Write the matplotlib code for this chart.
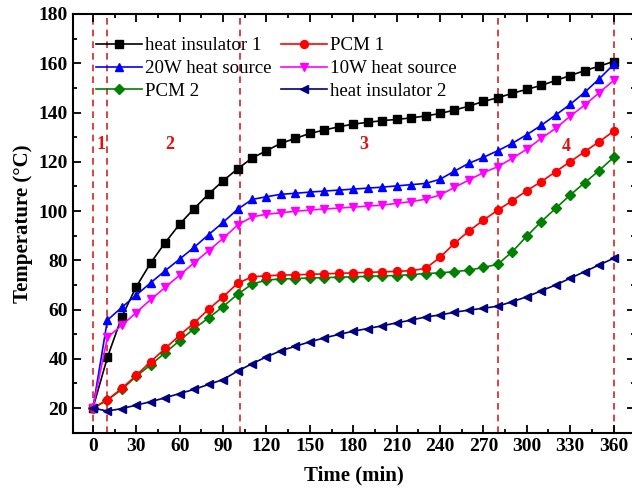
import numpy as np
import matplotlib
matplotlib.use("Agg")
import matplotlib.pyplot as plt
from matplotlib.ticker import MultipleLocator

# time axis, one reading every 10 min
time = np.arange(0, 361, 10)

heat_insulator_1 = [20, 40.6, 57.1, 69.3, 79, 87.2, 94.7, 101, 106.9, 112.3, 117.1,
                    121.5, 124.5, 127.5, 129.5, 131.5, 132.9, 134.2, 135.3, 136, 136.7,
                    137.2, 137.8, 138.6, 139.6, 141, 142.6, 144.5, 146, 147.8, 149.4,
                    151, 153, 155, 157, 158.8, 160.7]
pcm_1 = [20, 23.3, 28, 33.3, 38.9, 44.2, 49.6, 54.6, 60.1, 65.2, 70.6,
         73.3, 73.7, 74, 74.1, 74.3, 74.5, 74.7, 74.9, 75.1, 75.3,
         75.5, 75.8, 76.7, 81.2, 86.9, 91.9, 96.3, 100.4, 104.2, 108.3,
         111.9, 116, 120, 124.1, 128.1, 132.4]
w20_source = [20, 55.7, 60.9, 65.9, 70.9, 75.8, 80.5, 85.3, 90.4, 95.4, 100.7,
              104.7, 105.8, 106.8, 107.2, 107.7, 108.1, 108.5, 108.9, 109.3, 109.7,
              110.2, 110.7, 111.2, 112.9, 116.2, 119.4, 121.8, 124.5, 127.5, 131,
              134.8, 139, 143.3, 148.2, 153.6, 159.5]
w10_source = [20, 48.7, 53.6, 58.8, 64.1, 69, 74, 79, 83.9, 88.9, 94.3,
              97.6, 98.7, 99.3, 99.9, 100.4, 100.8, 101.2, 101.6, 102, 102.4,
              103.1, 103.8, 104.8, 106.5, 109.6, 112.6, 115.6, 118, 121.4, 125.1,
              129.5, 133.6, 138.5, 143, 148, 153]
pcm_2 = [20, 23.3, 27.6, 32.9, 37.6, 42.5, 47.4, 52.3, 56.6, 61.2, 66.2,
         70.3, 72, 72.4, 72.6, 72.8, 73, 73.1, 73.3, 73.5, 73.7,
         73.8, 74.2, 74.6, 74.9, 75.4, 76, 77.1, 78.4, 83.5, 89.8,
         95.7, 101.1, 106.5, 111.5, 116.4, 121.8]
heat_insulator_2 = [20, 18.8, 19.8, 21.2, 22.6, 24.2, 25.9, 27.6, 29.6, 31.6, 35,
                    38, 40.8, 43.3, 45.1, 46.9, 48.5, 49.9, 51.2, 52.3, 53.4,
                    54.6, 55.7, 57, 57.8, 58.9, 59.8, 60.5, 61.4, 63.2, 65.2,
                    67.6, 70, 72.7, 75.4, 78.1, 80.8]

# stage boundaries and stage numbers
stage_lines = [0, 10, 102, 280, 360]
stage_names = ["1", "2", "3", "4"]
stage_x = [5.5, 53, 187, 327]
stage_y = [127, 127, 127, 126]

plt.rcParams["font.family"] = ["Liberation Serif", "DejaVu Serif"]

fig = plt.figure(figsize=(6.32, 4.96), dpi=100)
ax = fig.add_axes([0.115, 0.1276, 0.889, 0.8442])

for xl in stage_lines:
  ax.axvline(xl, color="#d42424", linestyle=(0, (4, 3)), linewidth=1.2, zorder=1)

series = [
  (heat_insulator_1, "heat insulator 1", "black", "s", 5.2),
  (w20_source, "20W heat source", "#0000ff", "^", 6.3),
  (pcm_2, "PCM 2", "#008000", "D", 4.8),
  (pcm_1, "PCM 1", "#ff0000", "o", 5.7),
  (w10_source, "10W heat source", "#ff00ff", "v", 6.3),
  (heat_insulator_2, "heat insulator 2", "#000080", "<", 6.3),
]
for y, label, c, m, ms in series:
  ax.plot(time, y, color=c, marker=m, markersize=ms, linewidth=1.2,
          label=label, zorder=3)

for name, sx, sy in zip(stage_names, stage_x, stage_y):
  ax.text(sx, sy, name, color="#e01010", fontsize=13, fontweight="bold",
          ha="center", va="center")

ax.set_xlim(-14, 374.5)
ax.set_ylim(10, 180)
ax.xaxis.set_major_locator(MultipleLocator(30))
ax.xaxis.set_minor_locator(MultipleLocator(15))
ax.yaxis.set_major_locator(MultipleLocator(20))
ax.yaxis.set_minor_locator(MultipleLocator(10))
ax.tick_params(which="both", direction="in", top=True, right=True, width=1.3)
ax.tick_params(which="major", length=6, labelsize=14)
ax.tick_params(which="minor", length=3)
for lab in ax.get_xticklabels() + ax.get_yticklabels():
  lab.set_fontweight("bold")
for sp in ax.spines.values():
  sp.set_linewidth(1.5)

ax.set_xlabel("Time (min)", fontsize=15, fontweight="bold", labelpad=8)
ax.set_ylabel("Temperature (°C)", fontsize=15, fontweight="bold", labelpad=4)

ax.legend(ncol=2, loc="upper left", bbox_to_anchor=(0.022, 0.972), frameon=False,
          fontsize=13.6, handlelength=2.4, columnspacing=0.55, labelspacing=0.3,
          handletextpad=0.15, borderaxespad=0.2)

fig.savefig("out.png", dpi=100)
